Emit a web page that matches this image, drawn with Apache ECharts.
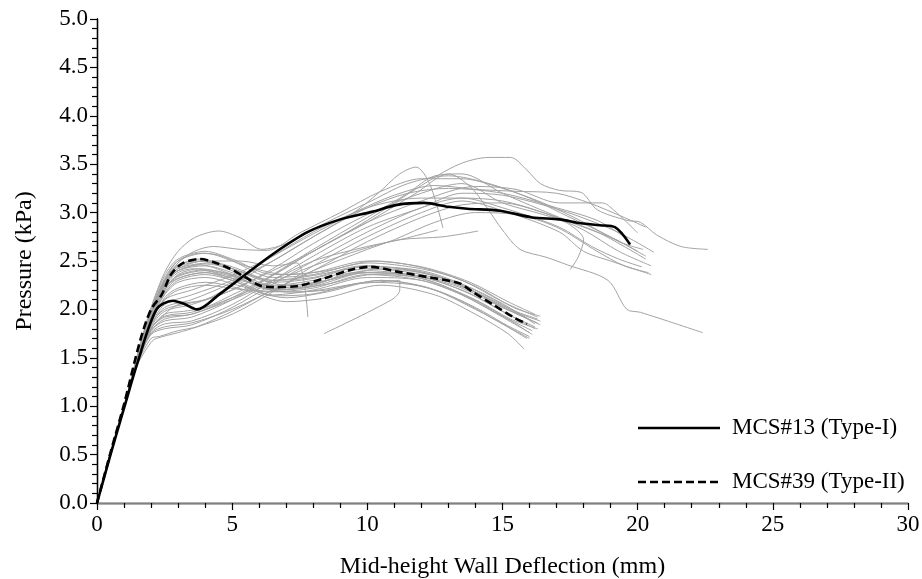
<!DOCTYPE html>
<html>
<head>
<meta charset="utf-8">
<script src="https://cdn.jsdelivr.net/npm/echarts@6/dist/echarts.min.js"></script>
<style>
  html, body { margin: 0; padding: 0; background: #fff; }
  #chart { width: 922px; height: 579px; }
</style>
</head>
<body>
<div id="chart"></div>
<script>
// Highlighted Monte Carlo samples: [deflection (mm), pressure (kPa)]
const mcs13 = [
  [0,0],[0.5,0.5],[1,0.98],[1.5,1.45],[2.2,2.0],[2.8,2.09],[3.2,2.06],[3.7,2.0],
  [4.5,2.15],[5.3,2.32],[6.5,2.57],[7.8,2.8],[9.0,2.93],[10.2,3.01],[11.1,3.08],
  [12.1,3.1],[13.0,3.06],[13.7,3.04],[14.9,3.02],[16.1,2.95],[17.1,2.93],[17.9,2.89],
  [18.6,2.87],[19.16,2.85],[19.72,2.67]
];
const mcs39 = [
  [0,0],[0.5,0.52],[1,1.02],[1.6,1.68],[2.0,2.0],[2.39,2.15],[2.76,2.37],[3.19,2.48],
  [3.81,2.52],[4.3,2.49],[4.92,2.42],[5.5,2.33],[6.0,2.25],[6.5,2.23],[7.4,2.24],
  [8.4,2.32],[9.4,2.41],[10.1,2.44],[11.1,2.39],[12.3,2.33],[13.4,2.27],[13.9,2.18],
  [14.65,2.05],[15.4,1.92],[15.9,1.85]
];
const legendNames = ['MCS#13 (Type-I)', 'MCS#39 (Type-II)'];

// Common elastic start shared by every sample
const rampStart = [[0,0],[0.5,0.51],[1,0.99]];

// Remaining samples, Type-I response (hardening to a late peak)
const typeOneCurves = [
  [[1.5,1.47],[2,1.85],[2.5,2.0],[3.2,2.05],[4,2.1],[5,2.2],[6.5,2.4],[8,2.6],[10,2.92],[12,3.28],[13.4,3.5],[14.5,3.57],[15.3,3.57],[15.9,3.44],[16.4,3.3],[17.1,3.23],[17.9,3.21],[18.5,3.03],[19.6,2.92],[20.1,2.9],[20.7,2.77],[21.6,2.65],[22.6,2.62]],
  [[1.5,1.47],[2,1.8],[2.5,1.95],[3.2,1.98],[4,2.02],[5,2.15],[6.5,2.35],[8,2.6],[10,2.9],[11.8,3.2],[13.0,3.4],[13.8,3.27],[14.4,3.06],[15,2.82],[15.65,2.62],[16.6,2.54],[17.4,2.46],[18.9,2.3],[19.6,2.0],[20.1,1.97],[22.4,1.76]],
  [[1.5,1.46],[2,1.78],[2.5,1.88],[3.5,1.92],[5,2.1],[6.5,2.35],[8,2.6],[10,2.9],[12,3.12],[14,3.27],[15.5,3.24],[17.1,3.1],[18.7,3.1],[19.1,3.03],[20,2.79]],
  [[1.5,1.45],[2,1.76],[2.5,1.85],[3.5,1.88],[5,2.05],[6.5,2.3],[8,2.55],[10,2.85],[12,3.05],[13.5,3.2],[15,3.18],[17.1,3.03],[18.4,2.9],[19.4,2.78],[20.6,2.59]],
  [[1.5,1.46],[2,1.8],[2.5,1.92],[3.5,1.95],[5,2.12],[6.5,2.36],[8,2.62],[10,2.95],[11.5,3.2],[12.5,3.38],[13.5,3.4],[15,3.2],[17.1,2.95],[18.5,2.8],[19.5,2.65],[20.3,2.52]],
  [[1.5,1.45],[2,1.74],[2.5,1.8],[3.5,1.84],[5,2.02],[6.5,2.26],[8,2.5],[10,2.8],[12,3.05],[13.5,3.15],[15,3.05],[17.1,2.85],[18.3,2.65],[19.3,2.52],[20.15,2.44]],
  [[1.5,1.44],[2,1.7],[2.3,1.72],[3,1.78],[3.7,1.82],[5,1.95],[6.5,2.18],[8,2.45],[10,2.75],[12,3.0],[13.5,3.12],[15,3.02],[17.1,2.8],[18,2.6],[19,2.5],[20.5,2.36]],
  [[1.5,1.46],[2,1.8],[2.5,1.95],[3,2.05],[4,2.1],[5,2.25],[6.5,2.5],[8,2.75],[10,3.05],[11.5,3.2],[13,3.25],[15,3.2],[17,3.05],[18.5,2.92],[19.5,2.75]],
  [[1.5,1.47],[2,1.82],[2.5,1.98],[3.5,2.05],[5,2.2],[6.5,2.42],[8,2.68],[10,2.98],[12,3.2],[13.5,3.3],[15,3.1],[16.5,2.98],[17.4,2.89],[18.0,2.72],[17.8,2.54],[17.5,2.41]],
  [[1.5,1.47],[2,1.84],[2.5,2.05],[3.5,2.15],[5,2.3],[6.5,2.5],[8,2.75],[9.5,3.0],[10.4,3.2],[11.2,3.4],[11.8,3.47],[12.3,3.3],[12.8,2.84]],
  [[1.5,1.46],[2,1.78],[2.5,1.9],[3.5,1.95],[5,2.1],[6.5,2.28],[8,2.45],[9.8,2.62],[11.2,2.72],[12.8,2.75],[14.1,2.81]],
  [[1.5,1.46],[2,1.8],[2.5,1.93],[3.5,1.97],[5,2.12],[6.5,2.3],[8,2.5],[10,2.65],[11.2,2.72],[12.6,2.82]],
  [[1.5,1.54],[2,2.02],[2.5,2.38],[3,2.6],[3.6,2.74],[4.5,2.81],[5.3,2.74],[6.1,2.62],[7,2.68],[8.5,2.9],[10,3.1],[11.5,3.3],[13,3.38],[14.5,3.3],[16,3.15],[17.5,2.95],[19,2.75],[20.3,2.55]],
  [[1.5,1.52],[2,1.98],[2.5,2.3],[3,2.48],[3.6,2.6],[4.3,2.65],[5.3,2.62],[6.3,2.61],[7.5,2.79],[9,3.0],[10.5,3.22],[12,3.35],[13.5,3.35],[15,3.25],[16.5,3.1],[18,2.9],[19.3,2.7],[20.2,2.62]],
  [[1.5,1.45],[2,1.75],[2.5,1.82],[3.5,1.86],[5,2.0],[6.5,2.2],[8,2.4],[10,2.62],[11,2.72],[12.5,2.9],[14,3.0],[15.5,2.98],[17,2.85],[18.5,2.6],[19.5,2.45],[20.4,2.38]],
  [[1.5,1.43],[2,1.66],[2.2,1.7],[3,1.76],[3.7,1.82],[5,1.98],[6.5,2.2],[8,2.4],[10,2.7],[12,2.95],[13.5,3.08],[15,3.1],[16.5,3.0],[18,2.85],[19.2,2.72],[20.0,2.6]],
  [[1.5,1.47],[2,1.83],[2.5,2.02],[3.5,2.1],[5,2.28],[6.5,2.55],[8,2.8],[9.5,3.0],[11,3.18],[12.5,3.28],[14,3.24],[15.5,3.22],[17,3.2],[18.2,3.1],[19.5,2.95],[20.3,2.85]],
  [[1.5,1.48],[2,1.86],[2.5,2.1],[3.5,2.2],[5,2.35],[6.5,2.55],[8,2.78],[10,3.05],[12,3.15],[13.5,3.15],[15,3.12],[16.5,3.0],[18,2.82],[19.3,2.6],[20.5,2.45]]
];

// Remaining samples, Type-II response (early peak, softening, second hump)
const typeTwoCurves = [
  [[1.5,1.5],[2,1.95],[2.5,2.28],[3,2.45],[3.8,2.52],[5,2.42],[6.5,2.28],[8,2.32],[10,2.45],[12,2.38],[13.5,2.25],[15,2.02],[16.3,1.86]],
  [[1.5,1.52],[2,1.98],[2.5,2.32],[3,2.5],[4,2.58],[5,2.5],[6.5,2.33],[8,2.36],[10,2.48],[12,2.42],[13.5,2.3],[15,2.08],[16.3,1.92]],
  [[1.5,1.48],[2,1.9],[2.5,2.2],[3,2.36],[3.8,2.42],[5,2.35],[6.5,2.2],[8,2.25],[9.5,2.38],[11.5,2.36],[13.5,2.2],[15,1.98],[16.2,1.8]],
  [[1.5,1.5],[2,1.92],[2.5,2.22],[3,2.32],[4,2.38],[5,2.3],[6.5,2.15],[8,2.2],[10,2.33],[12,2.3],[13.5,2.15],[15,1.92],[16.0,1.76]],
  [[1.5,1.49],[2,1.9],[2.5,2.15],[3,2.28],[4,2.33],[5.2,2.25],[7,2.12],[8.5,2.18],[10.5,2.3],[12.3,2.22],[14,2.0],[15.2,1.82],[16.0,1.7]],
  [[1.5,1.47],[2,1.86],[2.5,2.12],[3,2.22],[4,2.28],[5.5,2.2],[7,2.08],[8.5,2.12],[10.5,2.25],[12.5,2.15],[14,1.95],[15.2,1.75],[15.8,1.59]],
  [[1.5,1.52],[2,1.97],[2.5,2.3],[3,2.46],[3.8,2.5],[5,2.4],[6.5,2.25],[8,2.3],[10,2.42],[12,2.36],[13.8,2.2],[15.2,2.0],[16.4,1.84]],
  [[1.5,1.5],[2,1.94],[2.5,2.26],[3,2.4],[4,2.45],[5,2.38],[6.5,2.22],[8,2.26],[10,2.4],[12,2.34],[13.5,2.22],[15,2.02],[16.4,1.88]],
  [[1.5,1.51],[2,1.96],[2.5,2.27],[3,2.42],[4.2,2.48],[5.5,2.37],[7,2.25],[8.5,2.3],[10.5,2.42],[12.3,2.36],[14,2.18],[15.3,2.0],[16.3,1.9]],
  [[1.5,1.53],[2,2.0],[2.5,2.35],[3,2.52],[4,2.6],[5,2.52],[6.5,2.36],[8,2.38],[10,2.5],[12,2.44],[13.8,2.28],[15.2,2.08],[16.2,1.95]],
  [[1.5,1.5],[2,1.93],[2.5,2.24],[3,2.38],[3.6,2.42],[5,2.32],[6.3,2.18],[8,2.22],[10,2.36],[12,2.3],[13.5,2.15],[15,1.93],[16.1,1.78]],
  [[1.5,1.49],[2,1.91],[2.5,2.2],[3,2.34],[4,2.4],[5,2.34],[6.8,2.2],[8.5,2.26],[10.2,2.36],[12,2.32],[13.8,2.12],[15.2,1.9],[16.1,1.74]],
  [[1.5,1.5],[2,1.95],[2.5,2.3],[3,2.5],[3.8,2.58],[4.5,2.56],[5.5,2.45],[7,2.36],[8.5,2.4],[10.3,2.5],[12.2,2.42],[14,2.24],[15.4,2.02],[16.4,1.93]],
  [[1.5,1.48],[2,1.88],[2.5,2.16],[3,2.3],[4,2.36],[5,2.3],[6.5,2.14],[8,2.16],[10,2.28],[12,2.24],[13.5,2.08],[15,1.85],[15.9,1.7]],
  [[1.5,1.5],[2,1.93],[2.5,2.25],[3,2.4],[4,2.47],[5,2.42],[6.5,2.3],[8,2.33],[9.8,2.45],[11.8,2.4],[13.5,2.26],[15,2.06],[16.2,1.85]],
  [[1.5,1.51],[2,1.95],[2.5,2.26],[3,2.4],[3.8,2.46],[5,2.36],[6.5,2.2],[8,2.24],[10,2.38],[12,2.34],[13.8,2.16],[15.2,1.95],[16.2,1.82]],
  [[1.5,1.49],[2,1.9],[2.5,2.18],[3,2.32],[4,2.38],[5.3,2.3],[7,2.18],[8.5,2.2],[10.5,2.3],[12.5,2.2],[14,2.02],[15.2,1.83],[16.0,1.72]],
  [[1.5,1.48],[2,1.87],[2.5,2.1],[3,2.2],[4,2.25],[5.5,2.2],[7.5,2.18],[9.5,2.26],[11.2,2.3],[11.2,2.2],[10.9,2.1],[8.4,1.75]],
  [[1.5,1.52],[2,1.97],[2.5,2.29],[3,2.44],[4,2.5],[5,2.44],[6.5,2.3],[8,2.35],[10,2.44],[12,2.4],[13.6,2.25],[15,2.05],[16.1,1.88]],
  [[1.5,1.5],[2,1.93],[2.5,2.22],[3,2.35],[4,2.41],[5,2.36],[6.5,2.24],[8,2.27],[10,2.38],[12,2.32],[14,2.1],[15.3,1.9],[16.3,1.8]],
  [[1.5,1.5],[2,1.94],[2.5,2.26],[3,2.42],[4,2.5],[5.3,2.5],[6.5,2.45],[7.4,2.48],[7.8,1.92]]
];

const FONT = '"Liberation Serif", "Times New Roman", serif';
const GREY = '#a3a3a3';
const HIGHLIGHT_WIDTH = 2.6;
const DASH = [8, 4];

const series = [];
typeOneCurves.concat(typeTwoCurves).forEach(function (pts, i) {
  series.push({
    name: 'sample' + i,
    type: 'line',
    data: rampStart.concat(pts),
    symbol: 'none',
    smooth: 0.3,
    silent: true,
    z: 1,
    lineStyle: { color: GREY, width: 1 }
  });
});
series.push({
  name: legendNames[0],
  type: 'line',
  data: mcs13,
  symbol: 'none',
  smooth: 0.3,
  z: 5,
  lineStyle: { color: '#000', width: HIGHLIGHT_WIDTH }
});
series.push({
  name: legendNames[1],
  type: 'line',
  data: mcs39,
  symbol: 'none',
  smooth: 0.3,
  z: 6,
  lineStyle: { color: '#000', width: HIGHLIGHT_WIDTH, type: DASH }
});

// Key in the lower-right corner of the plot: line sample + label
function legendEntry(y, name, dashed) {
  return [{
    type: 'line',
    shape: { x1: 638, y1: y, x2: 720, y2: y },
    style: { stroke: '#000', lineWidth: HIGHLIGHT_WIDTH, lineDash: dashed ? DASH : null },
    z: 10
  }, {
    type: 'text',
    x: 732, y: y,
    style: {
      text: name, fill: '#000', font: '23px ' + FONT,
      textAlign: 'left', textVerticalAlign: 'middle'
    },
    z: 10
  }];
}

const chart = echarts.init(document.getElementById('chart'), null, { renderer: 'canvas' });
chart.setOption({
  animation: false,
  backgroundColor: '#fff',
  textStyle: { fontFamily: FONT },
  grid: { left: 97, right: 14, top: 19, bottom: 76, containLabel: false, outerBoundsMode: 'none' },
  graphic: legendEntry(428, legendNames[0], false).concat(legendEntry(482, legendNames[1], true)),
  xAxis: [{
    type: 'value',
    min: 0, max: 30, interval: 5,
    name: 'Mid-height Wall Deflection (mm)',
    nameLocation: 'middle',
    nameGap: 52,
    nameTextStyle: { fontFamily: FONT, fontSize: 24, color: '#000' },
    axisLine: { lineStyle: { color: '#000', width: 1.3 } },
    axisTick: { inside: false, length: 7, lineStyle: { color: '#000', width: 1.2 } },
    minorTick: { show: true, splitNumber: 5, length: 5, lineStyle: { color: '#000', width: 1.2 } },
    axisLabel: { fontFamily: FONT, fontSize: 23, color: '#000', margin: 10 },
    splitLine: { show: false }
  }, {
    type: 'value',
    position: 'top',
    min: 0, max: 30,
    axisLine: { show: true, lineStyle: { color: '#808080', width: 1.3 } },
    axisTick: { show: false },
    axisLabel: { show: false },
    splitLine: { show: false }
  }],
  yAxis: [{
    type: 'value',
    min: 0, max: 5, interval: 0.5,
    name: 'Pressure (kPa)',
    nameLocation: 'middle',
    nameGap: 60,
    nameTextStyle: { fontFamily: FONT, fontSize: 24, color: '#000' },
    axisLine: { show: true, lineStyle: { color: '#000', width: 1.3 } },
    axisTick: { show: true, inside: false, length: 7, lineStyle: { color: '#000', width: 1.2 } },
    minorTick: { show: true, splitNumber: 5, length: 5, lineStyle: { color: '#000', width: 1.2 } },
    axisLabel: {
      fontFamily: FONT, fontSize: 23, color: '#000', margin: 9,
      formatter: function (v) { return v.toFixed(1); }
    },
    splitLine: { show: false }
  }, {
    type: 'value',
    position: 'right',
    min: 0, max: 5,
    axisLine: { show: true, lineStyle: { color: '#000', width: 1.3 } },
    axisTick: { show: false },
    axisLabel: { show: false },
    splitLine: { show: false }
  }],
  series: series
});
</script>
</body>
</html>
